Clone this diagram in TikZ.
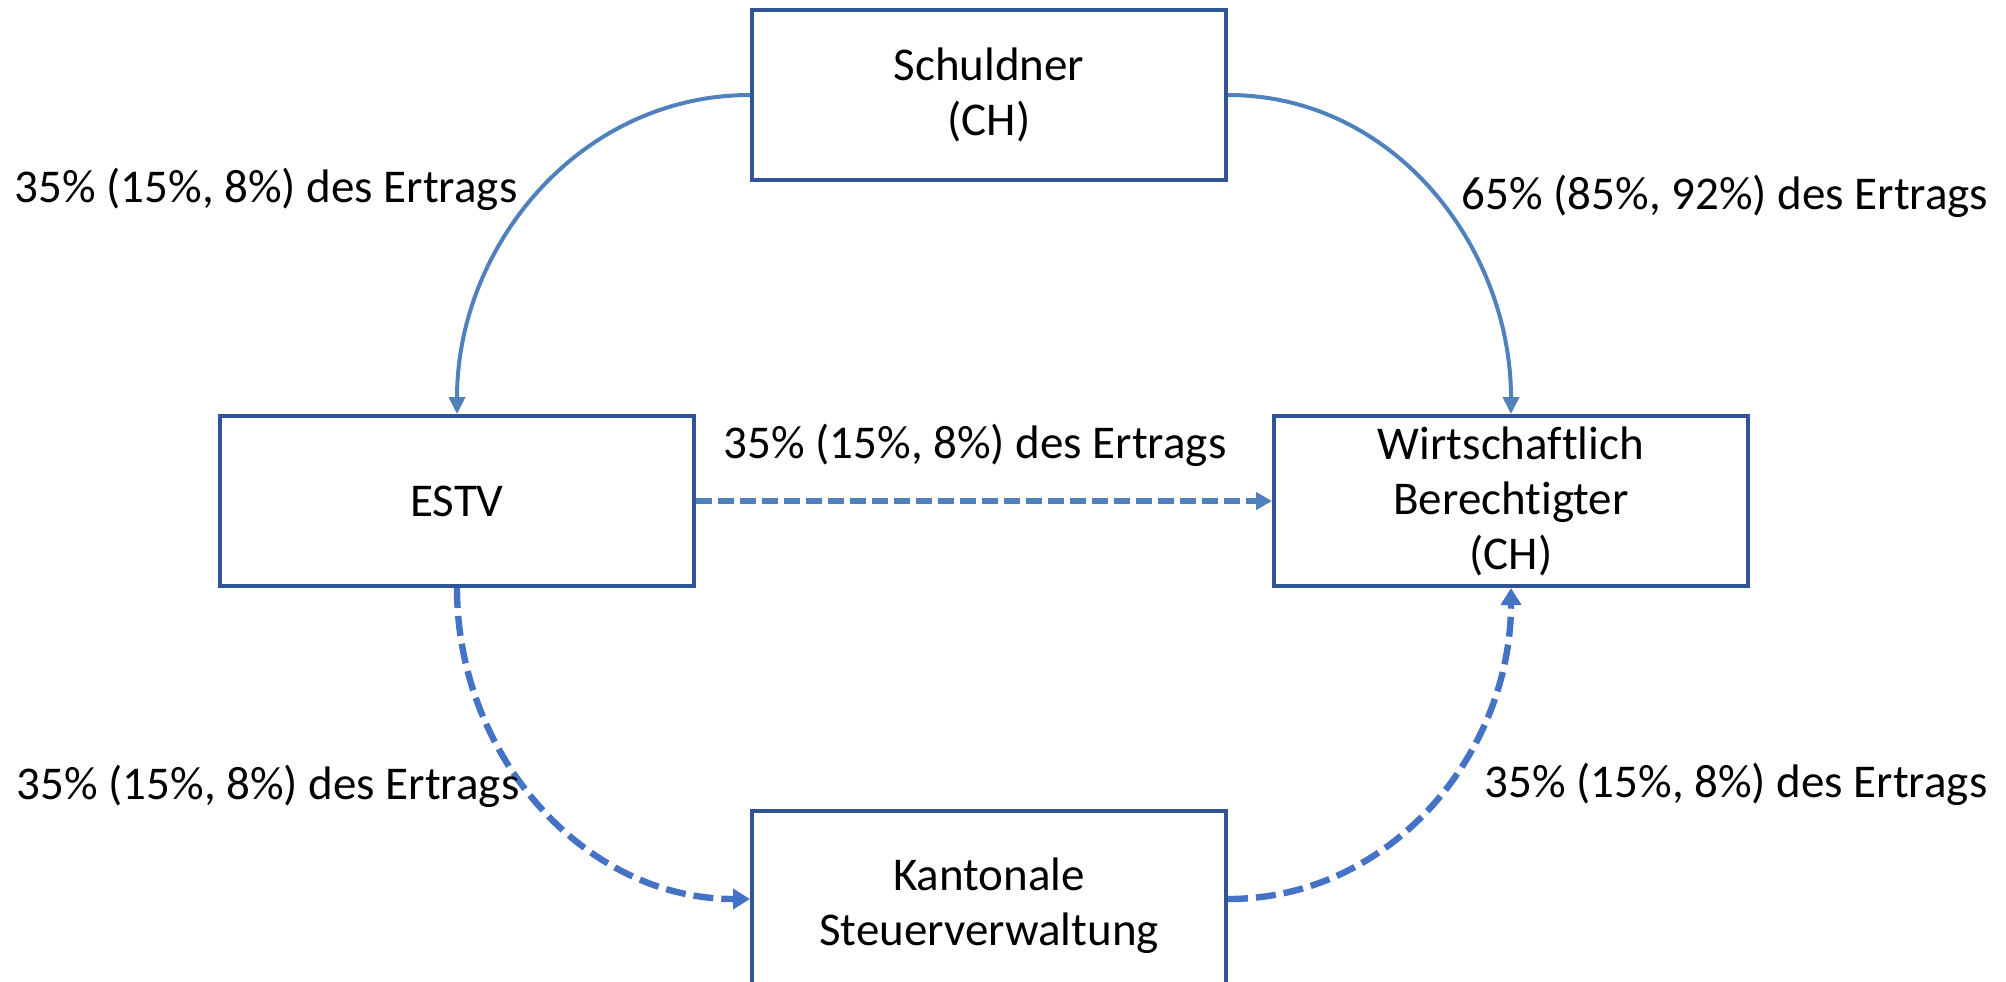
\documentclass[tikz,border=0pt]{standalone}
\usepackage{fontspec}
\setmainfont{Carlito}[Ligatures=NoCommon]
\usepackage{xcolor}
\usetikzlibrary{arrows.meta, positioning}

\definecolor{boxblue}{RGB}{47,85,151}
\definecolor{flowblue}{RGB}{79,129,189}
\definecolor{taxblue}{RGB}{68,114,196}

\begin{document}
\begin{tikzpicture}[x=0.5pt, y=-0.5pt,
    party/.style={draw=boxblue, line width=2pt, minimum width=237pt, minimum height=85pt,
        inner sep=0pt, align=center, font=\fontsize{23.5}{27.5}\selectfont},
    share/.style={font=\fontsize{23.5}{27.5}\selectfont},
    payment/.style={flowblue, line width=2pt, -{Triangle[length=8.5pt, width=8pt]}},
    refund/.style={flowblue, line width=2.6pt, dash pattern=on 8pt off 3pt,
        -{Triangle[length=8pt, width=8.5pt]}},
    withheld/.style={taxblue, line width=3.2pt, dash pattern=on 10pt off 4pt,
        -{Triangle[length=8.5pt, width=10pt]}}]
    \useasboundingbox (0,0) rectangle (2006,981);

    % Parties
    \node[party] (schuldner) at (989,95) {Schuldner\\(CH)};
    \node[party] (estv) at (457,501) {ESTV};
    \node[party] (wb) at (1511,501) {Wirtschaftlich\\Berechtigter\\(CH)};
    \node[party, minimum height=95pt] (kanton) at (989,906) {Kantonale\\Steuerverwaltung};

    % Flows
    \draw[payment] (schuldner.west) to[out=180, in=90] (estv.north);
    \draw[payment] (schuldner.east) to[out=0, in=90] (wb.north);
    \draw[refund] (estv.east) -- (wb.west);
    \draw[withheld] (estv.south) to[out=-90, in=180] ([yshift=3.5pt]kanton.west);
    \draw[withheld] ([yshift=3.5pt]kanton.east) to[out=0, in=-90] (wb.south);

    % Labels
    \node[share] (s1) at (266,189) {35\% (15\%, 8\%) des Ertrags};
    \node[share] (s2) at (1725,196) {65\% (85\%, 92\%) des Ertrags};
    \node[share] (s3) at (975,445) {35\% (15\%, 8\%) des Ertrags};
    \node[share] (s4) at (268,786) {35\% (15\%, 8\%) des Ertrags};
    \node[share] (s5) at (1736,784) {35\% (15\%, 8\%) des Ertrags};
\end{tikzpicture}
\end{document}
